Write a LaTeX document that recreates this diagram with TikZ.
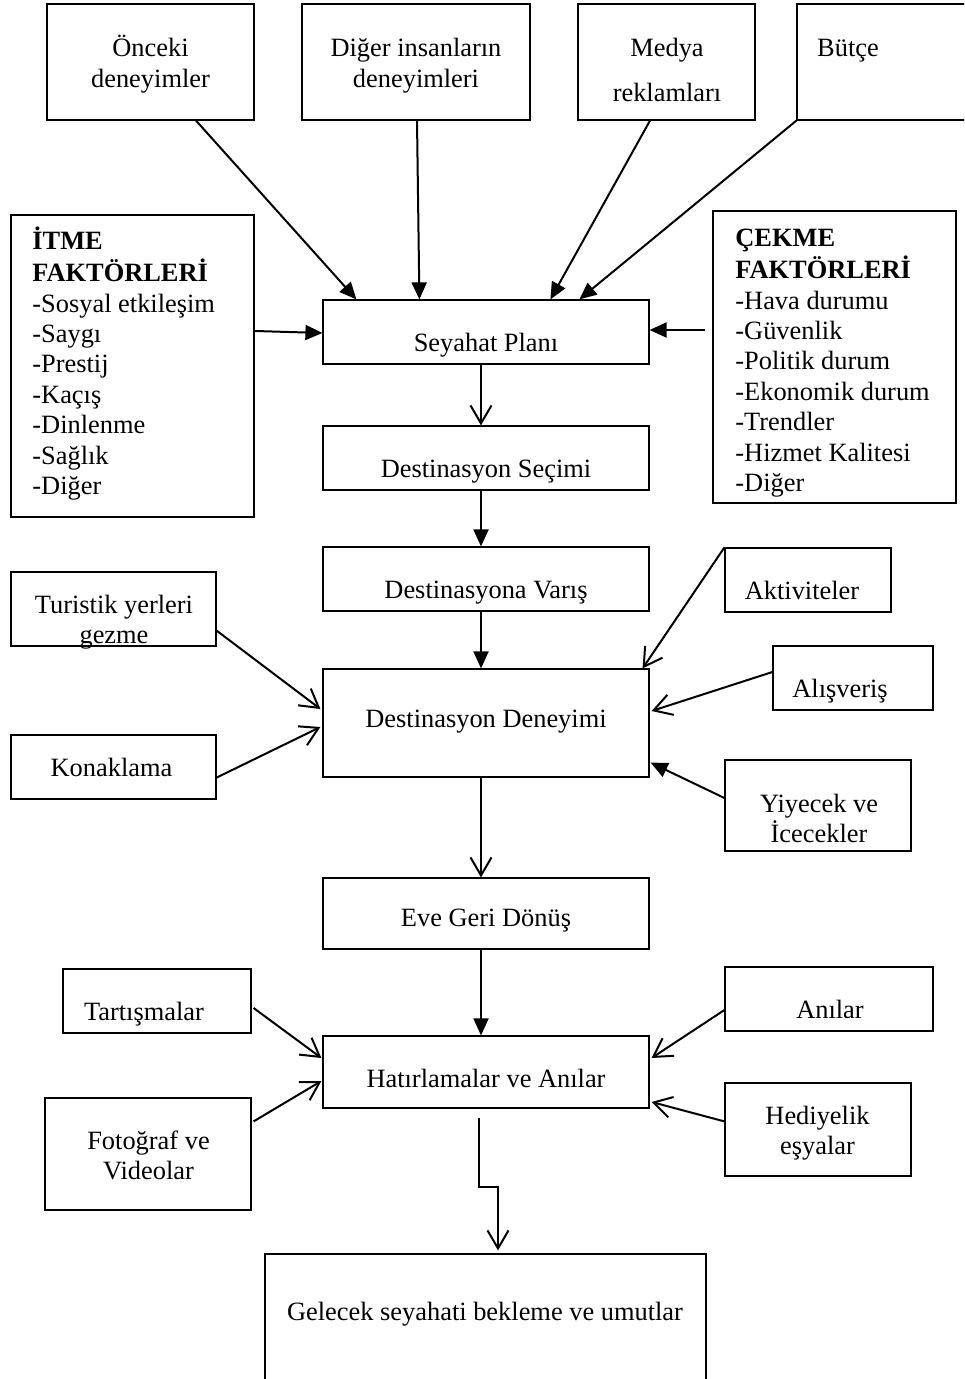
\documentclass[tikz,border=0pt]{standalone}
\usepackage{fontspec}
\setmainfont{Liberation Serif}
\usetikzlibrary{arrows.meta,calc,fit}
\newcommand{\ctxt}[1]{\begin{tabular}[t]{@{}c@{}}#1\end{tabular}}
\newcommand{\ltxt}[1]{\begin{tabular}[t]{@{}l@{}}#1\end{tabular}}
\begin{document}
\begin{tikzpicture}[x=0.5pt,y=-0.5pt,
  box/.style={draw, line width=0.6pt, inner sep=0pt},
  thickbox/.style={draw, line width=1.1pt, inner sep=0pt},
  txt/.style={inner sep=0pt, anchor=base, font=\fontsize{13.2}{15.2}\selectfont},
  lst/.style={inner sep=0pt, anchor=base west, font=\fontsize{13.2}{15.2}\selectfont},
  fa/.style={line width=1pt, -{Triangle[length=8.5pt,width=7.5pt]}},
  oa/.style={line width=1pt, -{Straight Barb[length=9pt,width=10.5pt]}},
]
\clip (0,0) rectangle (964,1379);
\fill[white] (0,0) rectangle (964,1379);

% top influences
\node[box, fit={(47,4)(254,120)}] (onc) {};
\node[txt] (onct) at (150.5,57) {\ctxt{Önceki\\deneyimler}};
\node[box, fit={(302,4)(530,120)}] (dig) {};
\node[txt] (digt) at (416,57) {\ctxt{Diğer insanların\\deneyimleri}};
\node[box, fit={(578,4)(755,120)}] (med) {};
\node[txt] (medt) at (667,57) {\ctxt{Medya\\[7.3pt]reklamları}};
\node[box, fit={(797,4)(990,120)}] (but) {};
\node[txt] (butt) at (848,57) {Bütçe};

% push / pull factors
\node[thickbox, fit={(11,215)(254,517)}] (itme) {};
\node[lst] (itmet) at (32,250) {\ltxt{\textbf{İTME}\\\textbf{FAKTÖRLERİ}\\-Sosyal etkileşim\\-Saygı\\-Prestij\\-Kaçış\\-Dinlenme\\-Sağlık\\-Diğer}};
\node[thickbox, fit={(713,211)(956,503)}] (cek) {};
\node[lst] (cekt) at (735,247) {\ltxt{\textbf{ÇEKME}\\\textbf{FAKTÖRLERİ}\\-Hava durumu\\-Güvenlik\\-Politik durum\\-Ekonomik durum\\-Trendler\\-Hizmet Kalitesi\\-Diğer}};

% main column
\node[box, fit={(323,300)(649,364)}] (sey) {};
\node[txt] (seyt) at (486,352) {Seyahat Planı};
\node[box, fit={(323,426)(649,490)}] (sec) {};
\node[txt] (sect) at (486,477) {Destinasyon Seçimi};
\node[box, fit={(323,547)(649,611)}] (var) {};
\node[txt] (vart) at (486,598) {Destinasyona Varış};
\node[box, fit={(323,669)(649,777)}] (den) {};
\node[txt] (dent) at (486,727) {Destinasyon Deneyimi};
\node[box, fit={(323,878)(649,949)}] (eve) {};
\node[txt] (evet) at (486,926) {Eve Geri Dönüş};
\node[box, fit={(323,1036)(649,1108)}] (hat) {};
\node[txt] (hatt) at (486,1087) {Hatırlamalar ve Anılar};
\node[box, fit={(265,1254)(706,1400)}] (gel) {};
\node[txt] (gelt) at (485,1320) {Gelecek seyahati bekleme ve umutlar};

% left side
\node[box, fit={(11,572)(216,646)}] (tur) {};
\node[txt] (turt) at (114,613) {\ctxt{Turistik yerleri\\gezme}};
\node[box, fit={(11,735)(216,799)}] (kon) {};
\node[txt] (kont) at (111.5,776) {Konaklama};
\node[box, fit={(63,969)(251,1033)}] (tar) {};
\node[txt] (tart) at (144,1020) {Tartışmalar};
\node[box, fit={(45,1098)(251,1210)}] (fot) {};
\node[txt] (fott) at (148.5,1149) {\ctxt{Fotoğraf ve\\Videolar}};

% right side
\node[box, fit={(725,548)(891,612)}] (akt) {};
\node[txt] (aktt) at (802,599) {Aktiviteler};
\node[box, fit={(773,646)(933,710)}] (alis) {};
\node[txt] (alist) at (840,697) {Alışveriş};
\node[box, fit={(725,760)(911,851)}] (yiy) {};
\node[txt] (yiyt) at (819,812) {\ctxt{Yiyecek ve\\İcecekler}};
\node[box, fit={(725,967)(933,1031)}] (ani) {};
\node[txt] (anit) at (830,1018) {Anılar};
\node[box, fit={(725,1083)(911,1176)}] (hed) {};
\node[txt] (hedt) at (817.5,1124) {\ctxt{Hediyelik\\eşyalar}};

% connectors
\draw[fa] ($(onc.south)+(45.5,0)$) -- ($(sey.north west)+(34,0)$);
\draw[fa] ($(dig.south)+(1,0)$) -- ($(sey.north west)+(97,0)$);
\draw[fa] ($(med.south)+(-16.5,0)$) -- ($(sey.north west)+(228,0)$);
\draw[fa] (but.south west) -- ($(sey.north west)+(257,0)$);
\draw[fa] ($(itme.east)+(0,-35)$) -- ($(sey.west)+(0,1)$);
\draw[fa] ($(cek.west)+(-7,-27)$) -- ($(sey.east)+(0,-2)$);
\draw[oa] ($(sey.south)+(-5,0)$) -- ($(sec.north)+(-5,0)$);
\draw[fa] ($(sec.south)+(-5,0)$) -- ($(var.north)+(-5,0)$);
\draw[fa] ($(var.south)+(-5,0)$) -- ($(den.north)+(-5,0)$);
\draw[oa] ($(tur.south east)+(0,-16)$) -- ($(den.west)+(-2,-14)$);
\draw[oa] ($(kon.south east)+(0,-22)$) -- ($(den.west)+(-2,4)$);
\draw[oa] (akt.north west) -- ($(den.north east)+(-7,0)$);
\draw[oa] ($(alis.west)+(0,-6)$) -- ($(den.east)+(2,-12)$);
\draw[fa] ($(yiy.west)+(0,-7.5)$) -- ($(den.south east)+(1,-15)$);
\draw[oa] ($(den.south)+(-5,0)$) -- ($(eve.north)+(-5,0)$);
\draw[fa] ($(eve.south)+(-5,0)$) -- ($(hat.north)+(-5,0)$);
\draw[oa] ($(tar.east)+(2,7)$) -- ($(hat.west)+(-1,-14)$);
\draw[oa] ($(fot.north east)+(2,24)$) -- ($(hat.west)+(-1,9)$);
\draw[oa] ($(ani.west)+(0,11)$) -- ($(hat.east)+(2,-14)$);
\draw[oa] ($(hed.north west)+(0,39)$) -- ($(hat.east)+(2,30)$);
\draw[oa] ($(hat.south)+(-7,9)$) -- ++(0,69) -| ($(gel.north)+(12.5,-3)$);
\end{tikzpicture}
\end{document}
